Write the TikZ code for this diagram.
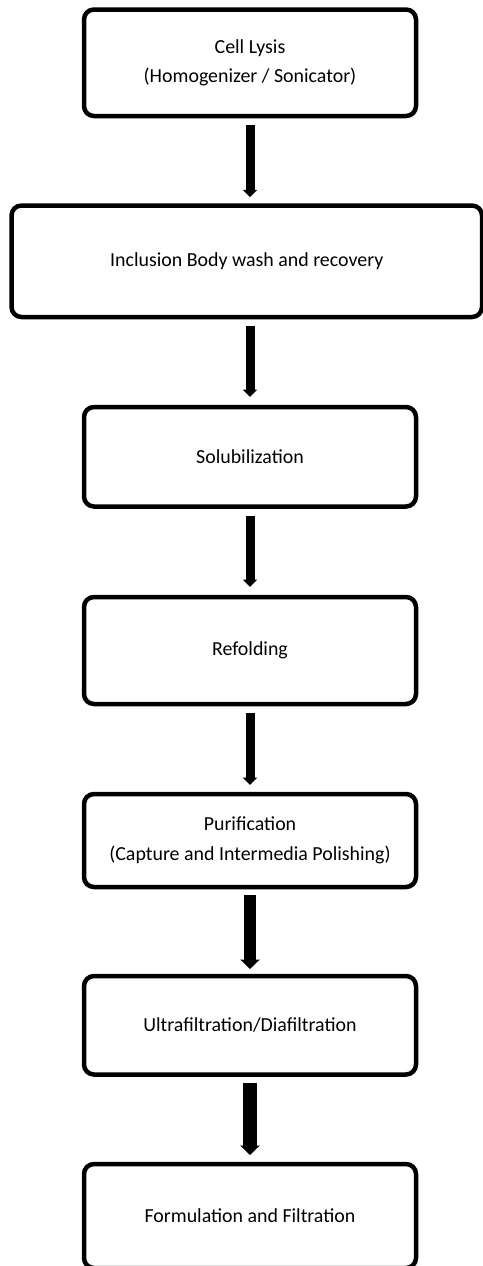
\documentclass[tikz,border=0pt]{standalone}
\usepackage{fontspec}
\setmainfont{Carlito}
\usetikzlibrary{arrows.meta}
\begin{document}
\begin{tikzpicture}[x=1pt,y=-1pt,
  stage/.style={draw=black, line width=4.5pt, rounded corners=10pt,
    inner sep=0pt, align=center, text=black,
    font=\fontsize{19.9}{29.5}\selectfont},
  flow/.style={line width=9pt, draw=black,
    -{Triangle[width=14pt,length=7.5pt]}},
  flowwide/.style={line width=12pt, draw=black,
    -{Triangle[width=19pt,length=9.5pt]}}]
  \useasboundingbox (0,0) rectangle (482,1266);
  \fill[white] (0,0) rectangle (482,1266);

  % process stages
  \node[stage, minimum width=332pt, minimum height=106.5pt] (lysis) at (250,62.75)
    {Cell Lysis\\(Homogenizer / Sonicator)};
  \node[stage, minimum width=470.5pt, minimum height=111.5pt] (ibwash) at (246.75,261.25)
    {Inclusion Body wash and recovery};
  \node[stage, minimum width=332pt, minimum height=99.5pt] (solub) at (250,456.75)
    {Solubilization};
  \node[stage, minimum width=332pt, minimum height=107pt] (refold) at (250,650.5)
    {Refolding};
  \node[stage, minimum width=332pt, minimum height=93pt] (purif) at (250,840.5)
    {Purification\\(Capture and Intermedia Polishing)};
  \node[stage, minimum width=332pt, minimum height=98.5pt] (ufdf) at (250,1025.25)
    {Ultrafiltration/Diafiltration};
  \node[stage, minimum width=332pt, minimum height=104pt] (formul) at (250,1216)
    {Formulation and Filtration};

  % connecting arrows
  \draw[flow, shorten <=6.7pt, shorten >=6pt] (lysis.south) -- (lysis.south |- ibwash.north);
  \draw[flow, shorten <=6.75pt, shorten >=7.75pt] (lysis.south |- ibwash.south) -- (solub.north);
  \draw[flow, shorten <=7.25pt, shorten >=7.75pt] (solub.south) -- (refold.north);
  \draw[flow, shorten <=6.75pt, shorten >=6.75pt] (refold.south) -- (purif.north);
  \draw[flowwide, shorten <=5.75pt, shorten >=4.75pt] (purif.south) -- (ufdf.north);
  \draw[flowwide, line width=13.5pt, shorten <=6.25pt, shorten >=6.75pt] (ufdf.south) -- (formul.north);
\end{tikzpicture}
\end{document}
